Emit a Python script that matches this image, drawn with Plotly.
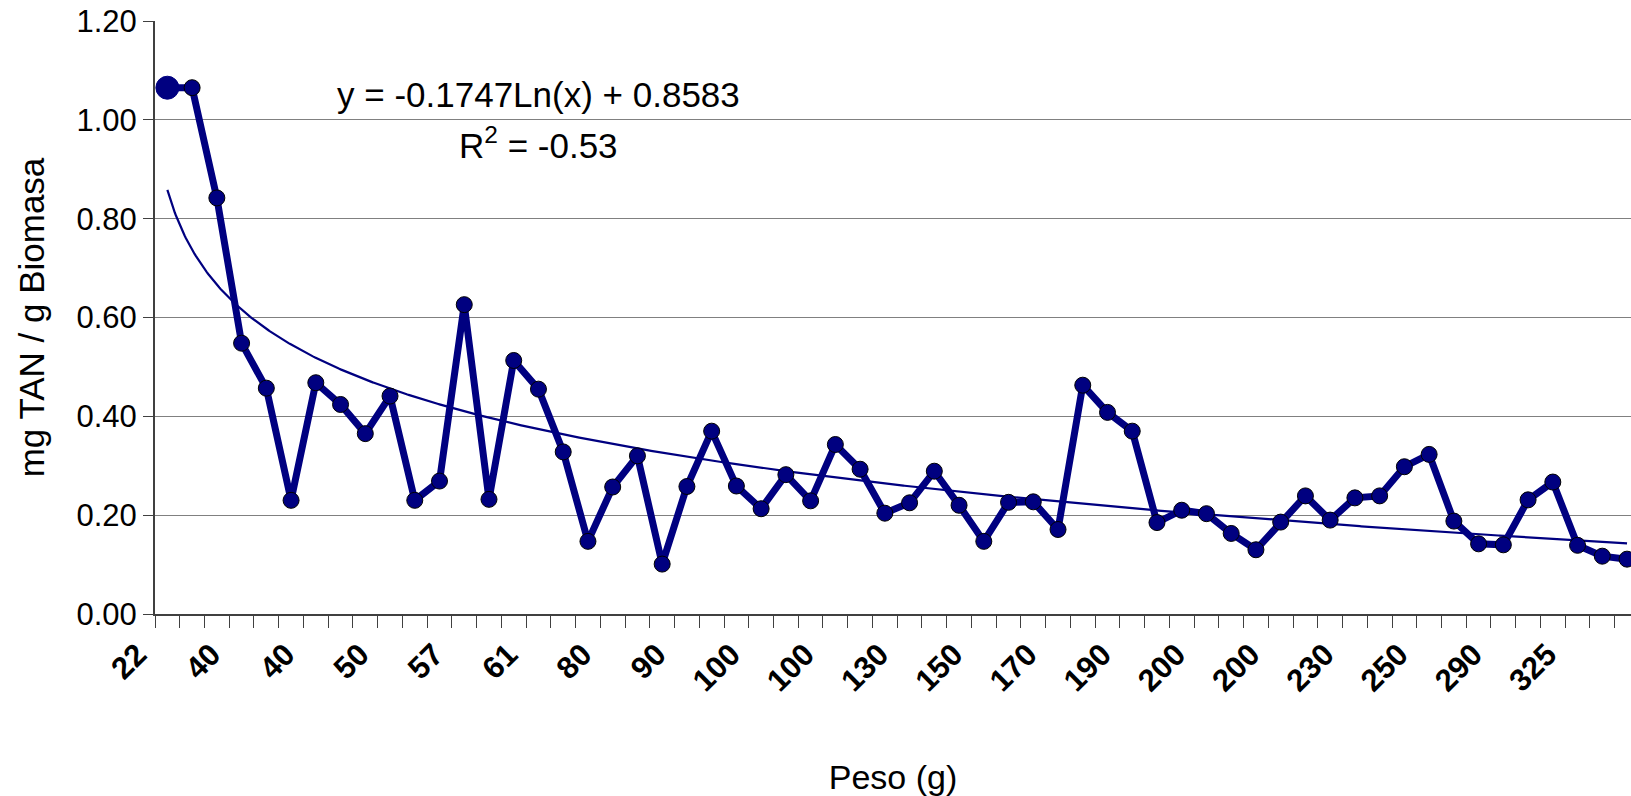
import math
import plotly.graph_objects as go

# Peso (g) labels shown under every third sample
peso_labels = ["22", "40", "40", "50", "57", "61", "80", "90", "100", "100",
               "130", "150", "170", "190", "200", "200", "230", "250", "290", "325"]
label_step = 3

# mg TAN per g of biomass, one value per sample
tan_por_biomasa = [
    1.065, 1.065, 0.842, 0.548, 0.457, 0.230, 0.468, 0.424, 0.365, 0.441,
    0.230, 0.269, 0.626, 0.232, 0.513, 0.455, 0.328, 0.147, 0.257, 0.320,
    0.101, 0.258, 0.370, 0.259, 0.213, 0.282, 0.229, 0.343, 0.293, 0.204,
    0.225, 0.289, 0.220, 0.147, 0.226, 0.227, 0.171, 0.463, 0.408, 0.370,
    0.185, 0.210, 0.203, 0.163, 0.130, 0.186, 0.239, 0.190, 0.235, 0.239,
    0.298, 0.323, 0.188, 0.142, 0.140, 0.231, 0.267, 0.139, 0.117, 0.111,
]

# logarithmic trend: y = a*ln(x) + b, x = 1..n
trend_a = -0.1747
trend_b = 0.8583
trend_r2 = -0.53

NAVY = "#000080"
FONT = "Arial, Liberation Sans, sans-serif"

n = len(tan_por_biomasa)
idx = list(range(n))

# smooth trend curve over sample positions
steps = 20
trend_x = [i / steps for i in range((n - 1) * steps + 1)]
trend_y = [trend_a * math.log(x + 1) + trend_b for x in trend_x]

label_pos = [i * label_step for i in range(len(peso_labels))]

sizes = [23] + [16] * (n - 1)
edge = [NAVY] + ["black"] * (n - 1)

fig = go.Figure()
fig.add_trace(go.Scatter(
    x=trend_x, y=trend_y, mode="lines",
    line=dict(color=NAVY, width=2.2), hoverinfo="skip", showlegend=False,
))
fig.add_trace(go.Scatter(
    x=idx, y=tan_por_biomasa, mode="lines+markers",
    line=dict(color=NAVY, width=7),
    marker=dict(color=NAVY, size=sizes, opacity=1,
                line=dict(color=edge, width=1)),
    opacity=1,
    showlegend=False,
))

fig.add_annotation(
    x=15.0, y=1.052, xref="x", yref="y", showarrow=False,
    text=f"y = {trend_a:.4f}Ln(x) + {trend_b:.4f}",
    font=dict(family=FONT, size=35, color="black"),
)
fig.add_annotation(
    x=15.0, y=0.953, xref="x", yref="y", showarrow=False,
    text=f"R<sup>2</sup> = {trend_r2:.2f}",
    font=dict(family=FONT, size=35, color="black"),
)

fig.update_layout(
    width=1631, height=796,
    margin=dict(l=155, r=0, t=21, b=182),
    paper_bgcolor="white", plot_bgcolor="white",
    font=dict(family=FONT, color="black"),
    xaxis=dict(
        range=[-0.5, 59.16],
        tickmode="array",
        tickvals=label_pos,
        ticktext=[f"<b>{t}</b>" for t in peso_labels],
        tickangle=-45,
        ticks="",
        ticklabelshift=-30,
        ticklabelstandoff=8,
        tickfont=dict(family=FONT, size=31, color="black"),
        minor=dict(tick0=-0.5, dtick=1, ticks="outside", ticklen=12,
                   tickcolor="#404040", tickwidth=1, showgrid=False),
        showline=True, linecolor="#404040", linewidth=2,
        showgrid=False, zeroline=False,
        title=dict(text="Peso (g)", font=dict(family=FONT, size=34), standoff=68),
    ),
    yaxis=dict(
        range=[0, 1.2],
        tickmode="array",
        tickvals=[0, 0.2, 0.4, 0.6, 0.8, 1.0, 1.2],
        tickformat=".2f",
        ticks="outside", ticklen=10, tickcolor="#404040",
        tickfont=dict(family=FONT, size=31, color="black"),
        showline=True, linecolor="#404040", linewidth=2,
        showgrid=True, gridcolor="#808080", gridwidth=1.3,
        zeroline=False,
        title=dict(text="mg TAN / g Biomasa", font=dict(family=FONT, size=35), standoff=21),
    ),
)

fig.write_html("out.html")
